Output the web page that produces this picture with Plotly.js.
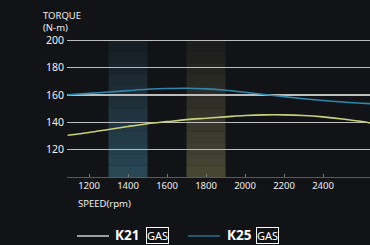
<!DOCTYPE html>
<html><head><meta charset="utf-8">
<script src="https://cdn.plot.ly/plotly-3.0.1.min.js"></script>
<style>html,body{margin:0;padding:0;background:#121317;}#c{width:370px;height:245px;}</style>
</head><body><div id="c"></div>
<script>
const rpm = [1090,1200,1300,1400,1500,1600,1700,1800,1900,2000,2100,2200,2300,2400,2500,2600,2650];
const k25 = [160.2,161.2,162.2,163.2,164.2,164.8,165,164.5,163.5,162,160.4,158.8,157.3,156,154.9,154,153.6];
const k21 = [130.5,132.6,134.8,137,139,140.5,142,143,144,145,145.5,145.5,145,144,142.5,140.6,139.3];
const xTicks = [1200,1400,1600,1800,2000,2200,2400];
const yTicks = [120,140,160,180,200];
const bandsBlue = [1300,1500];
const bandsOlive = [1700,1900];
const seriesNames = ['K21','K25'];

const shapes = [];
function band(r, rgb){
  const n = 12;
  for(let i=0;i<n;i++){
    const y0 = 100 + i*100/n, y1 = 100 + (i+1)*100/n;
    const op = 0.75 - 0.6*i/(n-1);
    shapes.push({type:'rect', xref:'x', yref:'y', x0:r[0], x1:r[1], y0:y0, y1:y1,
      fillcolor:rgb, opacity:op, line:{width:0}, layer:'below'});
  }
}
band(bandsBlue,'rgb(48,88,106)');
band(bandsOlive,'rgb(88,88,62)');
// legend line samples
shapes.push({type:'line', xref:'paper', yref:'paper', x0:(77-67)/303, x1:(109-67)/303, y0:-(236-177)/138, y1:-(236-177)/138, line:{color:'#e8e8e8',width:1.3}});
shapes.push({type:'line', xref:'paper', yref:'paper', x0:(188-67)/303, x1:(220-67)/303, y0:-(236-177)/138, y1:-(236-177)/138, line:{color:'#2a7ea6',width:1.3}});

function px(x){return (x-67)/303;}
function py(y){return (177-y)/138;}
const ann = [
  {text:'TORQUE<br>(N-m)', x:px(41), y:py(21), xref:'paper', yref:'paper', xanchor:'left', yanchor:'middle', align:'left', showarrow:false, font:{family:'Noto Sans', size:9.5, color:'#f0f0f0'}},
  {text:'SPEED(rpm)', x:px(76), y:py(203), xref:'paper', yref:'paper', xanchor:'left', yanchor:'middle', showarrow:false, font:{family:'Noto Sans', size:9.5, color:'#f0f0f0'}},
  {text:'<b>'+seriesNames[0]+'</b>', x:px(113), y:py(235.5), xref:'paper', yref:'paper', xanchor:'left', yanchor:'middle', showarrow:false, font:{family:'Noto Sans', size:13.5, color:'#ffffff'}},
  {text:'GAS', x:px(146), y:py(235.5), xref:'paper', yref:'paper', xanchor:'left', yanchor:'middle', showarrow:false, bordercolor:'#ffffff', borderwidth:1, borderpad:0, font:{family:'Noto Sans', size:11, color:'#ffffff'}},
  {text:'<b>'+seriesNames[1]+'</b>', x:px(225), y:py(235.5), xref:'paper', yref:'paper', xanchor:'left', yanchor:'middle', showarrow:false, font:{family:'Noto Sans', size:13.5, color:'#ffffff'}},
  {text:'GAS', x:px(256), y:py(235.5), xref:'paper', yref:'paper', xanchor:'left', yanchor:'middle', showarrow:false, bordercolor:'#ffffff', borderwidth:1, borderpad:0, font:{family:'Noto Sans', size:11, color:'#ffffff'}}
];

const traces = [
  {x:rpm, y:k21, type:'scatter', mode:'lines', name:seriesNames[0], line:{color:'#c9d27a', width:1.6, shape:'spline'}},
  {x:rpm, y:k25, type:'scatter', mode:'lines', name:seriesNames[1], line:{color:'#2d88b0', width:1.6, shape:'spline'}}
];

const layout = {
  width:370, height:245,
  margin:{l:67, r:0, t:39, b:68},
  paper_bgcolor:'#121317', plot_bgcolor:'#121317',
  showlegend:false,
  xaxis:{range:[1087,2641], tickvals:xTicks, showgrid:false, zeroline:false,
    showline:true, linecolor:'#5a5a5a', linewidth:1, ticks:'inside', ticklen:3, tickcolor:'#777',
    tickfont:{family:'Noto Sans', size:9.5, color:'#f0f0f0'}},
  yaxis:{range:[100,201], tickvals:yTicks, showgrid:true, gridcolor:'#bdbdbd', gridwidth:1.2,
    zeroline:false, showline:false, ticks:'', ticklabelstandoff:2,
    tickfont:{family:'Noto Sans', size:10.5, color:'#f0f0f0'}},
  shapes:shapes,
  annotations:ann
};
Plotly.newPlot('c', traces, layout, {staticPlot:true, displayModeBar:false});
</script></body></html>
